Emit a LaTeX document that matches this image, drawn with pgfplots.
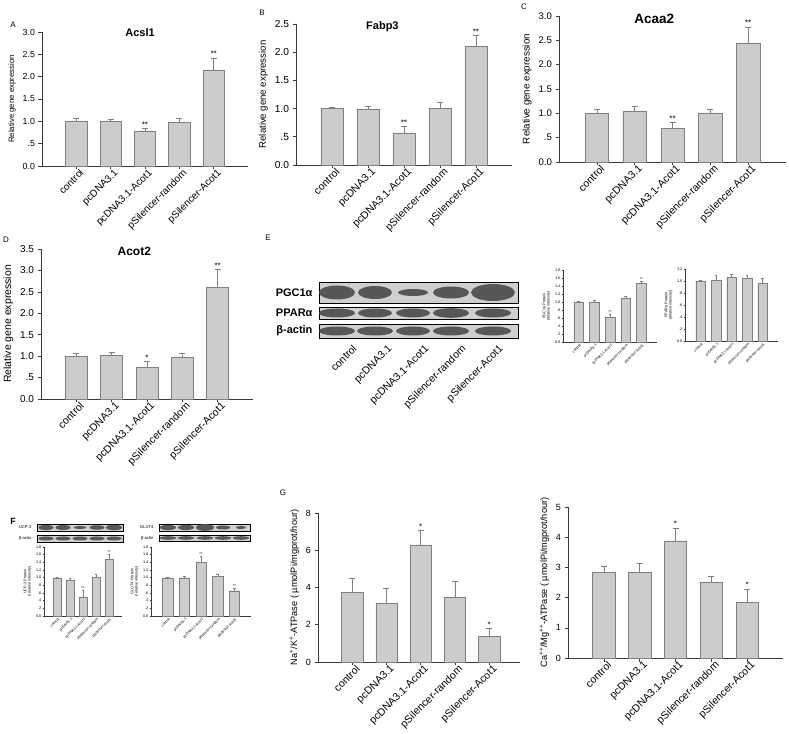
\documentclass[border=0pt]{standalone}
\usepackage{pgfplots}
\pgfplotsset{compat=1.18}
\usepackage{fontspec}
\setmainfont{Liberation Sans}
\definecolor{barfill}{HTML}{CCCCCC}
\definecolor{baredge}{HTML}{7F7F7F}
\definecolor{axcol}{HTML}{3A3A3A}
\pgfplotsset{
 base/.style={scale only axis, anchor=south west, clip=false,
   axis x line=bottom, axis y line=left,
   axis line style={-, draw=axcol, line width=0.7pt},
   tick align=outside, tick style={draw=axcol, line width=0.6pt},
   xtick={0,1,2,3,4},
   xticklabels={control,pcDNA3.1,pcDNA3.1-Acot1,pSilencer-random,pSilencer-Acot1},
   xmin=-1, xmax=5, ymin=0,
   /pgf/number format/assume math mode=true,
   ylabel style={align=center},
   title style={anchor=north, inner sep=1pt},
 },
 big/.style={base, major tick length=3.5pt,
   x tick label style={rotate=45, anchor=north east, inner sep=1pt, xshift=4pt},
 },
 fonts/.style n args={4}{y tick label style={font=\fontsize{#1}{#1}\selectfont},
   x tick label style={font=\fontsize{#2}{#2}\selectfont},
   ylabel style={font=\fontsize{#3}{#3}\selectfont},
   title style={font=\bfseries\fontsize{#4}{#4}\selectfont}},
 small/.style={base, major tick length=1.5pt,
   axis line style={line width=0.4pt}, tick style={line width=0.35pt},
   y tick label style={font=\fontsize{3.8}{4}\selectfont, inner sep=1pt},
   x tick label style={rotate=45, anchor=north east, font=\fontsize{3.6}{4}\selectfont, inner sep=0.5pt, xshift=1pt},
   ylabel style={font=\fontsize{3.8}{4.4}\selectfont},
 },
 bars/.style={ybar, bar width=0.62, fill=barfill, draw=baredge, line width=0.5pt,
   error bars/y dir=plus, error bars/y explicit,
   error bars/error bar style={draw=baredge, line width=0.5pt},
   error bars/error mark options={rotate=90, mark size=3pt, draw=baredge, line width=0.5pt}},
 sbars/.style={bars, line width=0.3pt,
   error bars/error bar style={draw=baredge, line width=0.3pt},
   error bars/error mark options={rotate=90, mark size=1.4pt, draw=baredge, line width=0.3pt}},
 stars/.style={draw=none, mark=none, nodes near coords, point meta=explicit symbolic,
   nodes near coords align={above},
   every node near coord/.append style={font=\fontsize{8}{8}\selectfont, inner sep=1pt}},
 sstars/.style={stars, every node near coord/.append style={font=\fontsize{4}{4}\selectfont, inner sep=0.5pt}},
}
\begin{document}
\begin{tikzpicture}
\useasboundingbox (0,0) rectangle (789pt,733pt);
\fill[white] (0,0) rectangle (789pt,733pt);

% ---------------- Panel A
\begin{axis}[big, fonts={8.8}{10}{7.8}{11}, at={(42pt,567pt)}, width=206pt, height=134pt,
  ymax=3, ytick={0,0.5,1,1.5,2,2.5,3}, yticklabels={0.0,.5,1.0,1.5,2.0,2.5,3.0},
  ylabel={Relative gene expression}, title={Acsl1}, title style={at={(0.476,0.99)}}]
\addplot[bars] table[x=x,y=y,y error=e]{
x y e
0 1.00 0.06
1 1.00 0.04
2 0.77 0.07
3 0.98 0.09
4 2.15 0.27
};
\addplot[stars] table[x=x,y=y,meta=s]{
x y s
2 0.84 **
4 2.42 **
};
\end{axis}

% ---------------- Panel B
\begin{axis}[big, fonts={10.2}{10.5}{9.6}{11}, at={(296pt,568pt)}, width=216pt, height=141pt,
  ymax=2.5, ytick={0,0.5,1,1.5,2,2.5}, yticklabels={0.0,.5,1.0,1.5,2.0,2.5},
  ylabel={Relative gene expression}, title={Fabp3}, title style={at={(0.40,0.98)}}]
\addplot[bars] table[x=x,y=y,y error=e]{
x y e
0 1.00 0.02
1 0.99 0.05
2 0.57 0.11
3 1.01 0.10
4 2.10 0.20
};
\addplot[stars] table[x=x,y=y,meta=s]{
x y s
2 0.68 **
4 2.30 **
};
\end{axis}

% ---------------- Panel C
\begin{axis}[big, fonts={9.6}{10.5}{9.8}{13.5}, at={(559pt,571pt)}, width=227pt, height=146pt,
  ymax=3, ytick={0,0.5,1,1.5,2,2.5,3}, yticklabels={0.0,.5,1.0,1.5,2.0,2.5,3.0},
  ylabel={Relative gene expression}, title={Acaa2}, title style={at={(0.42,0.98)}}]
\addplot[bars] table[x=x,y=y,y error=e]{
x y e
0 1.00 0.09
1 1.05 0.09
2 0.69 0.12
3 1.01 0.08
4 2.45 0.32
};
\addplot[stars] table[x=x,y=y,meta=s]{
x y s
2 0.81 **
4 2.77 **
};
\end{axis}

% ---------------- Panel D
\begin{axis}[big, fonts={10}{10.5}{10.5}{12}, at={(41pt,334pt)}, width=212pt, height=150pt,
  ymax=3.5, ytick={0,0.5,1,1.5,2,2.5,3,3.5}, yticklabels={0.0,.5,1.0,1.5,2.0,2.5,3.0,3.5},
  ylabel={Relative gene expression}, title={Acot2}, title style={at={(0.44,0.98)}}]
\addplot[bars] table[x=x,y=y,y error=e]{
x y e
0 1.00 0.07
1 1.01 0.08
2 0.74 0.14
3 0.98 0.09
4 2.60 0.42
};
\addplot[stars] table[x=x,y=y,meta=s]{
x y s
2 0.88 *
4 3.02 **
};
\end{axis}

% ---------------- Panel E charts
\begin{axis}[small, at={(563pt,391pt)}, width=94pt, height=72pt,
  ymax=1.8, ytick={0,0.2,0.4,0.6,0.8,1.0,1.2,1.4,1.6,1.8}, yticklabels={0.0,.2,.4,.6,.8,1.0,1.2,1.4,1.6,1.8},
  ylabel={PGC1α Protein\\(relative intensity)}]
\addplot[sbars] table[x=x,y=y,y error=e]{
x y e
0 1.00 0.02
1 1.00 0.05
2 0.62 0.07
3 1.10 0.05
4 1.47 0.06
};
\addplot[sstars] table[x=x,y=y,meta=s]{
x y s
2 0.69 **
4 1.53 **
};
\end{axis}
\begin{axis}[small, at={(685pt,392pt)}, width=93pt, height=72pt,
  ymax=1.2, ytick={0,0.2,0.4,0.6,0.8,1.0,1.2}, yticklabels={0.0,.2,.4,.6,.8,1.0,1.2},
  ylabel={PPARα Protein\\(relative intensity)}]
\addplot[sbars] table[x=x,y=y,y error=e]{
x y e
0 1.00 0.02
1 1.01 0.08
2 1.06 0.06
3 1.04 0.05
4 0.96 0.08
};
\end{axis}

% ---------------- Panel F charts
\begin{axis}[small, at={(44pt,117pt)}, width=78pt, height=69pt,
  ymax=1.8, ytick={0,0.2,0.4,0.6,0.8,1.0,1.2,1.4,1.6,1.8}, yticklabels={0.0,.2,.4,.6,.8,1.0,1.2,1.4,1.6,1.8},
  ylabel={UCP-3 Protein\\(relative intensity)}]
\addplot[sbars] table[x=x,y=y,y error=e]{
x y e
0 1.00 0.02
1 0.93 0.07
2 0.50 0.17
3 1.02 0.08
4 1.48 0.14
};
\addplot[sstars] table[x=x,y=y,meta=s]{
x y s
2 0.67 **
4 1.62 **
};
\end{axis}
\begin{axis}[small, at={(151pt,117pt)}, width=100pt, height=69pt,
  ymax=1.8, ytick={0,0.2,0.4,0.6,0.8,1.0,1.2,1.4,1.6,1.8}, yticklabels={0.0,.2,.4,.6,.8,1.0,1.2,1.4,1.6,1.8},
  ylabel={GLUT4 Protein\\(relative intensity)}]
\addplot[sbars] table[x=x,y=y,y error=e]{
x y e
0 1.00 0.02
1 1.00 0.05
2 1.40 0.15
3 1.03 0.05
4 0.66 0.07
};
\addplot[sstars] table[x=x,y=y,meta=s]{
x y s
2 1.55 **
4 0.73 **
};
\end{axis}

% ---------------- Panel G
\begin{axis}[big, fonts={9}{10.5}{9.2}{10}, at={(318pt,71pt)}, width=202pt, height=149pt,
  xmax=4.9, ymax=8, ytick={0,2,4,6,8},
  ylabel={Na\textsuperscript{+}/K\textsuperscript{+}-ATPase ( µmolPi/mgprot/hour)}]
\addplot[bars] table[x=x,y=y,y error=e]{
x y e
0 3.75 0.75
1 3.15 0.80
2 6.25 0.80
3 3.47 0.85
4 1.38 0.42
};
\addplot[stars] table[x=x,y=y,meta=s]{
x y s
2 7.05 *
4 1.80 *
};
\end{axis}
\begin{axis}[big, fonts={9}{10.5}{9.2}{10}, at={(568pt,75pt)}, width=215pt, height=151pt,
  ymax=5, ytick={0,1,2,3,4,5},
  ylabel={Ca\textsuperscript{++}/Mg\textsuperscript{++}-ATPase ( µmolPi/mgprot/hour)}]
\addplot[bars] table[x=x,y=y,y error=e]{
x y e
0 2.83 0.20
1 2.83 0.30
2 3.88 0.43
3 2.50 0.20
4 1.85 0.43
};
\addplot[stars] table[x=x,y=y,meta=s]{
x y s
2 4.31 *
4 2.28 *
};
\end{axis}

% ---------------- blots and panel letters
\begin{scope}[x=1pt,y=1pt]
% E blots
\draw[line width=0.8pt, fill=gray!38] (319,430) rectangle (518,451);
\foreach \cx/\rx/\ry in {337/18/7, 375/17/6.5, 413/15/3.5, 451/18/6, 493/22/8.5}
  \fill[black!66] (\cx,440.5) ellipse ({\rx pt} and {\ry pt});
\draw[line width=0.8pt, fill=gray!38] (319,414) rectangle (518,426);
\foreach \cx/\rx/\ry in {337/18/4.5, 375/17/4.5, 413/17/4.5, 451/18/4.8, 493/18/4.5}
  \fill[black!66] (\cx,420) ellipse ({\rx pt} and {\ry pt});
\draw[line width=0.8pt, fill=gray!38] (319,395) rectangle (518,409);
\foreach \cx/\rx/\ry in {337/18/4.5, 375/18/4.5, 413/17/4.5, 451/18/4.5, 493/18/4.5}
  \fill[black!66] (\cx,402) ellipse ({\rx pt} and {\ry pt});
\node[anchor=east, font=\bfseries\fontsize{11}{11}\selectfont] at (316,440.5) {PGC1α};
\node[anchor=east, font=\bfseries\fontsize{11}{11}\selectfont] at (316,420) {PPARα};
\node[anchor=east, font=\bfseries\fontsize{11}{11}\selectfont] at (316,402) {β-actin};
\foreach \lx/\lt in {352/control, 387/pcDNA3.1, 424/pcDNA3.1-Acot1, 461/pSilencer-random, 498/pSilencer-Acot1}
  \node[rotate=45, anchor=north east, inner sep=0pt, font=\fontsize{10.5}{10.5}\selectfont] at (\lx,389) {\lt};
% F blots UCP-3
\draw[line width=0.5pt, fill=gray!38] (37,202) rectangle (123,209);
\foreach \cx/\rx/\ry in {46/7.5/2.6, 63/7.5/2.5, 80/6.5/1.4, 97/7.5/2.2, 114/8/2.8}
  \fill[black!66] (\cx,205.5) ellipse ({\rx pt} and {\ry pt});
\draw[line width=0.5pt, fill=gray!38] (37,191) rectangle (123,198);
\foreach \cx in {46,63,80,97,114}
  \fill[black!66] (\cx,194.5) ellipse (7.5pt and 2pt);
\node[anchor=east, font=\fontsize{4.2}{4.2}\selectfont] at (35,205.5) {UCP-3};
\node[anchor=east, font=\fontsize{4.2}{4.2}\selectfont] at (35,194.5) {β-actin};
% F blots GLUT4
\draw[line width=0.5pt, fill=gray!38] (159,202) rectangle (250,209);
\foreach \cx/\rx/\ry in {168/8/2.6, 186/8/2.6, 205/9/3.4, 223/7/2.0, 241/5/1.5}
  \fill[black!66] (\cx,205.5) ellipse ({\rx pt} and {\ry pt});
\draw[line width=0.5pt, fill=gray!38] (159,192) rectangle (250,198);
\foreach \cx in {168,186,205,223,241}
  \fill[black!66] (\cx,195) ellipse (8pt and 1.8pt);
\node[anchor=east, font=\fontsize{4.2}{4.2}\selectfont] at (157,205.5) {GLUT4};
\node[anchor=east, font=\fontsize{4.2}{4.2}\selectfont] at (157,195) {β-actin};
% panel letters
\node[font=\fontsize{8}{8}\selectfont] at (13,708) {A};
\node[font=\fontsize{8}{8}\selectfont] at (262,720) {B};
\node[font=\fontsize{8}{8}\selectfont] at (524,726) {C};
\node[font=\fontsize{8}{8}\selectfont] at (6,493) {D};
\node[font=\fontsize{8}{8}\selectfont] at (268,495) {E};
\node[font=\bfseries\fontsize{9}{9}\selectfont] at (13,212) {F};
\node[font=\fontsize{8}{8}\selectfont] at (283,240) {G};
\end{scope}
\end{tikzpicture}
\end{document}
